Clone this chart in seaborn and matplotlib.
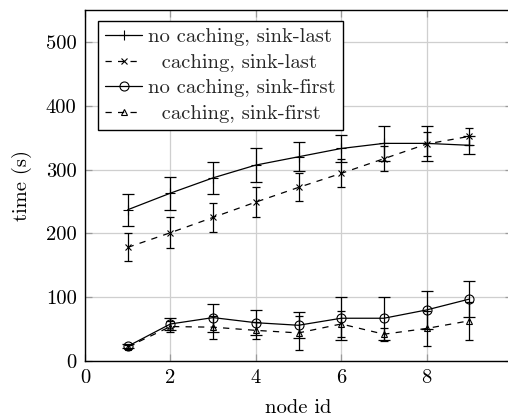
import matplotlib
matplotlib.use("Agg")
import matplotlib.pyplot as plt
import seaborn as sns
import numpy as np
import pandas as pd

# node ids on the x axis
node_ids = [1, 2, 3, 4, 5, 6, 7, 8, 9]

# mean time (s) and error half-widths per configuration
nocache_last = [237, 263, 287, 307, 320, 333, 341, 341, 338]
nocache_last_err = [25, 26, 25, 26, 23, 21, 27, 28, 14]

cache_last = [178, 201, 225, 249, 272, 294, 317, 340, 352]
cache_last_err = [22, 24, 23, 23, 22, 22, 20, 19, 13]

nocache_first = [23, 58, 68, 60, 56, 67, 67, 80, 97]
nocache_first_err = [3, 10, 22, 20, 20, 34, 34, 30, 28]

cache_first = [22, 54, 53, 48, 44, 58, 42, 51, 63]
cache_first_err = [3, 8, 18, 13, 27, 20, 10, 28, 30]

labels = ["no caching, sink-last", "caching, sink-last",
          "no caching, sink-first", "caching, sink-first"]

x_ticks = [0, 2, 4, 6, 8]
y_ticks = [0, 100, 200, 300, 400, 500]

sns.set_theme(style="whitegrid")
plt.rcParams["font.family"] = ["cmr10", "DejaVu Serif"]
plt.rcParams["axes.formatter.use_mathtext"] = True
plt.rcParams["mathtext.fontset"] = "cm"

FS = 14.8

fig = plt.figure(figsize=(5.08, 4.17), dpi=100)
ax = fig.add_axes([85 / 508, 56 / 417, 427 / 508, 351 / 417])

series = [
    (nocache_last, nocache_last_err, "+", "-", 7, 4.5),
    (cache_last, cache_last_err, "x", (0, (5, 5)), 5, 3),
    (nocache_first, nocache_first_err, "o", "-", 6.5, 4.5),
    (cache_first, cache_first_err, "^", (0, (5, 5)), 5, 3),
]

handles = []
for (vals, errs, mk, ls, ms, cap), lab in zip(series, labels):
    df = pd.DataFrame({"node": node_ids, "time": vals})
    ax.errorbar(df["node"], df["time"], yerr=errs, fmt="none",
                ecolor="black", elinewidth=0.9, capsize=cap, capthick=0.9,
                zorder=3)
    sns.lineplot(data=df, x="node", y="time", ax=ax, color="black",
                 marker=mk, markersize=ms, markerfacecolor="none",
                 markeredgecolor="black", markeredgewidth=0.8,
                 linewidth=0.9, linestyle=ls, zorder=4)
    handles.append(ax.lines[-1])

ax.set_xlim(0, 10)
ax.set_ylim(0, 550)
ax.set_xticks(x_ticks)
ax.set_yticks(y_ticks)
ax.set_xticklabels([str(v) for v in x_ticks])
ax.set_yticklabels([str(v) for v in y_ticks])

ax.grid(True, color="#cfcfcf", linewidth=0.9)
ax.set_axisbelow(True)
for sp in ax.spines.values():
    sp.set_color("black")
    sp.set_linewidth(1.0)
    sp.set_visible(True)

ax.tick_params(axis="both", which="major", direction="in", length=5,
               width=0.9, color="#9a9a9a", labelsize=FS, pad=6,
               top=True, right=True, bottom=True, left=True,
               labelcolor="black")

ax.set_xlabel("node id", fontsize=FS, color="black")
ax.set_ylabel("time (s)", fontsize=FS, color="black")
ax.xaxis.set_label_coords(0.5, -0.108)
ax.yaxis.set_label_coords(-0.125, 0.5)

leg_labels = ["no caching, sink-last", "  caching, sink-last",
              "no caching, sink-first", "  caching, sink-first"]
leg = ax.legend(handles, leg_labels, loc="upper left",
                bbox_to_anchor=(0.03, 0.97), fontsize=14.8,
                frameon=True, fancybox=False, framealpha=1,
                edgecolor="black", handlelength=1.8, handletextpad=0.3,
                labelspacing=0.35, borderpad=0.35, borderaxespad=0)
leg.get_frame().set_linewidth(1.0)

fig.savefig("out.png", dpi=100)
